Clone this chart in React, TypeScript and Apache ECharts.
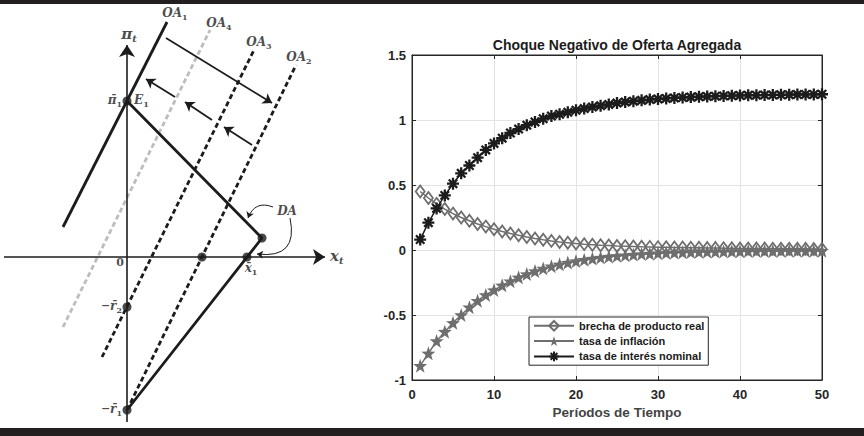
import React, { useEffect, useRef } from "react";
import * as echarts from "echarts";

// ---------- right plot data ----------
const periodos = [
  1, 2, 3, 4, 5, 6, 7, 8, 9, 10, 11, 12, 13, 14, 15, 16, 17, 18, 19, 20, 21, 22, 23, 24, 25,
  26, 27, 28, 29, 30, 31, 32, 33, 34, 35, 36, 37, 38, 39, 40, 41, 42, 43, 44, 45, 46, 47, 48, 49, 50,
];
const brecha = [
  0.45, 0.4, 0.355, 0.315, 0.28, 0.25, 0.225, 0.2, 0.18, 0.16,
  0.143, 0.127, 0.113, 0.1, 0.089, 0.079, 0.07, 0.062, 0.056, 0.05,
  0.045, 0.041, 0.037, 0.034, 0.031, 0.029, 0.027, 0.025, 0.024, 0.022,
  0.021, 0.02, 0.019, 0.018, 0.017, 0.016, 0.015, 0.014, 0.013, 0.012,
  0.012, 0.011, 0.011, 0.01, 0.01, 0.009, 0.009, 0.009, 0.008, 0.008,
];
const inflacion = [
  -0.89, -0.795, -0.7, -0.628, -0.56, -0.5, -0.44, -0.39, -0.346, -0.308,
  -0.272, -0.24, -0.21, -0.185, -0.162, -0.142, -0.125, -0.11, -0.097, -0.085,
  -0.075, -0.066, -0.058, -0.051, -0.045, -0.04, -0.035, -0.031, -0.028, -0.025,
  -0.022, -0.02, -0.018, -0.016, -0.014, -0.013, -0.012, -0.011, -0.01, -0.009,
  -0.008, -0.008, -0.007, -0.007, -0.006, -0.006, -0.006, -0.005, -0.005, -0.005,
];
const interes = [
  0.08, 0.21, 0.32, 0.42, 0.51, 0.59, 0.65, 0.71, 0.77, 0.82,
  0.86, 0.9, 0.93, 0.96, 0.985, 1.01, 1.03, 1.045, 1.06, 1.075,
  1.088, 1.1, 1.11, 1.12, 1.13, 1.138, 1.145, 1.151, 1.157, 1.162,
  1.166, 1.17, 1.173, 1.176, 1.179, 1.181, 1.183, 1.185, 1.187, 1.189,
  1.19, 1.191, 1.192, 1.193, 1.194, 1.195, 1.196, 1.197, 1.197, 1.198,
];
const seriesNames = ["brecha de producto real", "tasa de inflación", "tasa de interés nominal"];
const chartTitle = "Choque Negativo de Oferta Agregada";
const xTitle = "Períodos de Tiempo";

// ---------- left diagram (schematic units, origin at the axes crossing) ----------
const axisPi = [[0, -165], [0, 212]];
const axisX = [[-123, 0], [198, 0]];
const oa1 = [[-64, 30], [40, 235]];
const oa4 = [[-64, -70], [83, 227]];
const oa3 = [[-25, -100], [127, 207]];
const oa2 = [[0, -153], [169, 192]];
const da = [[0, 156], [135, 19], [0, -153]];
const dots = [[0, 156], [135, 19], [120, 0], [75, 0], [0, -50], [0, -153]];
const shiftRight = [[[39, 219], [145, 154]]];
const shiftsLeft = [
  [[48, 160], [19, 178]],
  [[85, 137], [58, 155]],
  [[125, 112], [97, 130]],
];
const daPointerUp = [[146, 50], [121, 39]];
const daPointerDown = [[163, 39], [130, 3]];
const diagramLabels = [
  { text: "{i|OA}{s|1}", at: [48, 243], align: "center" },
  { text: "{i|OA}{s|4}", at: [92, 233], align: "center" },
  { text: "{i|OA}{s|3}", at: [132, 214], align: "center" },
  { text: "{i|OA}{s|2}", at: [172, 199], align: "center" },
  { text: "{b|π}{si|t}", at: [2, 222], align: "center" },
  { text: "{i|π̄}{s|1}", at: [-5, 156], align: "right" },
  { text: "{i|E}{s|1}", at: [7, 156], align: "left" },
  { text: "{n|0}", at: [-7, -7], align: "center" },
  { text: "{i|x̄}{s|1}", at: [124, -12], align: "center" },
  { text: "{n|−}{i|r̄}{s|2}", at: [-5, -50], align: "right" },
  { text: "{n|−}{i|r̄}{s|1}", at: [-5, -153], align: "right" },
  { text: "{i|DA}", at: [160, 45], align: "center" },
  { text: "{b|x}{si|t}", at: [203, 0], align: "left" },
];

const SANS = "Liberation Sans, Arial, sans-serif";
const SERIF = "DejaVu Serif, serif";
const INK = "#1c1c1c";
const GRAY = "#6e6e6e";
const STAR =
  "path://M0,-10 L2.35,-3.24 L9.51,-3.09 L3.8,1.24 L5.88,8.09 L0,4 L-5.88,8.09 L-3.8,1.24 L-9.51,-3.09 L-2.35,-3.24 Z";
const ASTER = "path://M0,-10 L0,10 M-10,0 L10,0 M-7,-7 L7,7 M7,-7 L-7,7";

const rich = {
  i: { fontFamily: SERIF, fontStyle: "italic", fontWeight: "bold", fontSize: 12, lineHeight: 14, verticalAlign: "top", color: INK },
  b: { fontFamily: SERIF, fontStyle: "italic", fontWeight: "bold", fontSize: 15, lineHeight: 17, verticalAlign: "top", color: INK },
  s: { fontFamily: SERIF, fontWeight: "bold", fontSize: 8, lineHeight: 9, verticalAlign: "bottom", color: INK },
  si: { fontFamily: SERIF, fontStyle: "italic", fontWeight: "bold", fontSize: 10, lineHeight: 10, verticalAlign: "bottom", color: INK },
  n: { fontFamily: SERIF, fontWeight: "bold", fontSize: 11, lineHeight: 14, verticalAlign: "top", color: INK },
};

function segLine(name: string, pts: number[][], color: string, dashed: boolean) {
  return {
    name,
    type: "line",
    xAxisIndex: 2,
    yAxisIndex: 2,
    data: pts,
    symbol: "none",
    silent: true,
    lineStyle: { color, width: 2.8, type: dashed ? [5, 3] : "solid" },
    z: 2,
  };
}

function arrowLines(name: string, segs: number[][][], width: number, size: number, curveness = 0) {
  return {
    name,
    type: "lines",
    coordinateSystem: "cartesian2d",
    xAxisIndex: 2,
    yAxisIndex: 2,
    symbol: ["none", "arrow"],
    symbolSize: size,
    silent: true,
    lineStyle: { color: INK, width, opacity: 1, curveness },
    data: segs.map((c) => ({ coords: c })),
    z: 3,
  };
}

export default function App() {
  const ref = useRef<HTMLDivElement>(null);
  useEffect(() => {
    if (!ref.current) return;
    const chart = echarts.init(ref.current, null, { renderer: "svg" });
    const mainX = { min: 0, max: 50, interval: 10 };
    const mainY = { min: -1, max: 1.5, interval: 0.5 };
    chart.setOption({
      animation: false,
      backgroundColor: "#ffffff",
      grid: [
        { left: 412, right: 42, top: 55, bottom: 56, show: true, borderColor: "#262626", borderWidth: 1 },
        { left: 0, top: 0, width: 340, height: 436 },
      ],
      xAxis: [
        {
          type: "value", gridIndex: 0, ...mainX,
          axisLine: { show: true, onZero: false, lineStyle: { color: "#262626" } },
          axisTick: { show: true, inside: true, length: 4, lineStyle: { color: "#262626" } },
          splitLine: { show: true, lineStyle: { color: "#e3e3e3" } },
          axisLabel: { fontFamily: SANS, fontWeight: "bold", fontSize: 13, color: "#262626", margin: 8 },
          name: xTitle, nameLocation: "middle", nameGap: 25,
          nameTextStyle: { fontFamily: SANS, fontWeight: "bold", fontSize: 13.5, color: "#444444" },
        },
        {
          type: "value", gridIndex: 0, position: "top", ...mainX,
          axisLine: { show: true, onZero: false, lineStyle: { color: "#262626" } },
          axisTick: { show: true, inside: true, length: 4, lineStyle: { color: "#262626" } },
          splitLine: { show: false }, axisLabel: { show: false },
        },
        { type: "value", gridIndex: 1, min: -127, max: 213, show: false },
      ],
      yAxis: [
        {
          type: "value", gridIndex: 0, ...mainY,
          axisLine: { show: true, onZero: false, lineStyle: { color: "#262626" } },
          axisTick: { show: true, inside: true, length: 4, lineStyle: { color: "#262626" } },
          splitLine: { show: true, lineStyle: { color: "#e3e3e3" } },
          axisLabel: { fontFamily: SANS, fontWeight: "bold", fontSize: 13, color: "#262626", margin: 6 },
        },
        {
          type: "value", gridIndex: 0, position: "right", ...mainY,
          axisLine: { show: true, onZero: false, lineStyle: { color: "#262626" } },
          axisTick: { show: true, inside: true, length: 4, lineStyle: { color: "#262626" } },
          splitLine: { show: false }, axisLabel: { show: false },
        },
        { type: "value", gridIndex: 1, min: -179, max: 257, show: false },
      ],
      legend: {
        data: seriesNames,
        orient: "vertical",
        left: 529,
        top: 317,
        itemWidth: 40,
        itemHeight: 12,
        itemGap: 4,
        backgroundColor: "#ffffff",
        borderColor: "#262626",
        borderWidth: 1,
        borderRadius: 0,
        padding: [3, 4, 3, 4],
        selectedMode: false,
        textStyle: { fontFamily: SANS, fontWeight: "bold", fontSize: 11, color: INK },
      },
      graphic: [
        { type: "rect", shape: { x: 0, y: 0, width: 864, height: 4 }, style: { fill: "#231f20" }, silent: true },
        { type: "rect", shape: { x: 0, y: 428, width: 864, height: 8 }, style: { fill: "#231f20" }, silent: true },
        {
          type: "text", x: 617, y: 45, silent: true,
          style: {
            text: chartTitle, font: "bold 14px " + SANS, fill: INK,
            textAlign: "center", textVerticalAlign: "middle", align: "center", verticalAlign: "middle",
          },
        },
      ],
      series: [
        {
          name: seriesNames[0], type: "line", xAxisIndex: 0, yAxisIndex: 0,
          data: periodos.map((t, i) => [t, brecha[i]]),
          symbol: "diamond", symbolSize: [9, 12],
          itemStyle: { color: "rgba(255,255,255,0)", borderColor: GRAY, borderWidth: 1.8 },
          lineStyle: { color: GRAY, width: 1.5 }, z: 3,
        },
        {
          name: seriesNames[1], type: "line", xAxisIndex: 0, yAxisIndex: 0,
          data: periodos.map((t, i) => [t, inflacion[i]]),
          symbol: STAR, symbolSize: 14,
          itemStyle: { color: GRAY },
          lineStyle: { color: GRAY, width: 1.5 }, z: 4,
        },
        {
          name: seriesNames[2], type: "line", xAxisIndex: 0, yAxisIndex: 0,
          data: periodos.map((t, i) => [t, interes[i]]),
          symbol: ASTER, symbolSize: 12,
          itemStyle: { color: INK, borderColor: INK, borderWidth: 2.3 },
          lineStyle: { color: INK, width: 1.5 }, z: 5,
        },
        // ----- diagram -----
        arrowLines("ejePi", [axisPi], 1.6, 12),
        arrowLines("ejeX", [axisX], 1.6, 12),
        segLine("OA4", oa4, "#bdbdbd", true),
        segLine("OA3", oa3, INK, true),
        segLine("OA2", oa2, INK, true),
        segLine("OA1", oa1, INK, false),
        segLine("DA", da, INK, false),
        arrowLines("desplazaDer", shiftRight, 1.8, 9),
        arrowLines("desplazaIzq", shiftsLeft, 1.8, 9),
        arrowLines("puntaDA1", [daPointerUp], 1, 6, -0.5),
        arrowLines("puntaDA2", [daPointerDown], 1, 6, 0.7),
        {
          name: "puntos", type: "scatter", xAxisIndex: 2, yAxisIndex: 2,
          data: dots, symbolSize: 9, itemStyle: { color: INK }, silent: true, z: 6,
        },
        {
          name: "etiquetas", type: "scatter", xAxisIndex: 2, yAxisIndex: 2, symbolSize: 0, silent: true, z: 7,
          data: diagramLabels.map((l) => ({
            value: l.at,
            label: { show: true, position: "inside", formatter: l.text, align: l.align, verticalAlign: "middle", rich },
          })),
        },
      ],
    });
    return () => chart.dispose();
  }, []);
  return <div ref={ref} style={{ position: "absolute", left: 0, top: 0, width: 864, height: 436 }} />;
}
